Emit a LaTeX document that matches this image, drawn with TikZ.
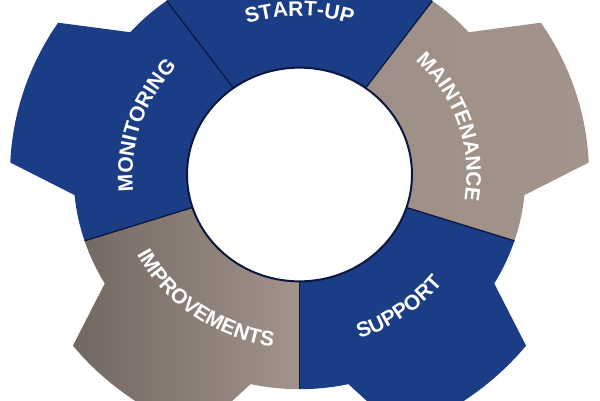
\documentclass[tikz,border=0pt]{standalone}
\usepackage{fontspec}
\setmainfont{Liberation Sans}
\usetikzlibrary{decorations.text}
\definecolor{gblue}{RGB}{27,61,134}
\definecolor{gline}{RGB}{10,24,64}
\definecolor{taupeA}{RGB}{120,108,102}
\definecolor{taupeB}{RGB}{158,143,135}
\definecolor{taupeC}{RGB}{162,147,139}
\newcommand\gtxt{\bfseries\fontsize{21}{25}\selectfont}
\tikzset{
  gearpath/.style={insert path={
    (#1-36:112.5) -- (#1-36:226)
    arc[start angle=#1-36, end angle=#1-23.5, radius=226]
    -- (#1-15.5:289.5)
    arc[start angle=#1-15.5, end angle=#1+15.5, radius=289.5]
    -- (#1+23.5:226)
    arc[start angle=#1+23.5, end angle=#1+36, radius=226]
    -- (#1+36:112.5)
    arc[start angle=#1+36, end angle=#1-36, radius=112.5] -- cycle}},
  bline/.style={draw=gline, line width=1.3pt},
  curvetext/.style={decorate, decoration={text along path, text={|\gtxt|#1},
    text align=center, text color=white}},
}
\begin{document}
\begin{tikzpicture}[x=1pt,y=1pt]
\useasboundingbox (0,0) rectangle (600,400);
\clip (0,0) rectangle (600,400);
\fill[white] (0,0) rectangle (600,400);
\coordinate (C) at (299.5,225.5);
\begin{scope}[shift={(C)}, yscale=0.95]
  \path[fill=gblue, gearpath=90];
  \path[fill=gblue, gearpath=162];
  \path[fill=gblue, gearpath=-54];
  \path[left color=taupeA!95!black, right color=taupeC, gearpath=234];
  \path[left color=taupeB, right color=taupeC, gearpath=18];
  \foreach \a in {126,54,-18,-90,198}
    \draw[bline] (\a:112.5) -- (\a:226);
  \draw[draw=gline, line width=2pt, fill=white] (0,0) circle[radius=112.5];
\end{scope}
% curved labels (baseline on an ellipse matching the gear)
\path[shift={(C)}, curvetext={START-UP}]
  (140:167 and 158.65) arc[start angle=140, end angle=40, x radius=167, y radius=158.65];
\path[shift={(C)}, curvetext={MONITORING}]
  (212:167 and 158.65) arc[start angle=212, end angle=112, x radius=167, y radius=158.65];
\path[shift={(C)}, curvetext={MAINTENANCE}]
  (68:167 and 158.65) arc[start angle=68, end angle=-32, x radius=167, y radius=158.65];
\path[shift={(C)}, curvetext={SUPPORT}]
  (-104:183 and 173.85) arc[start angle=-104, end angle=-4, x radius=183, y radius=173.85];
\path[shift={(C)}, curvetext={IMPROVEMENTS}]
  (184:183 and 173.85) arc[start angle=184, end angle=284, x radius=183, y radius=173.85];
\end{tikzpicture}
\end{document}
